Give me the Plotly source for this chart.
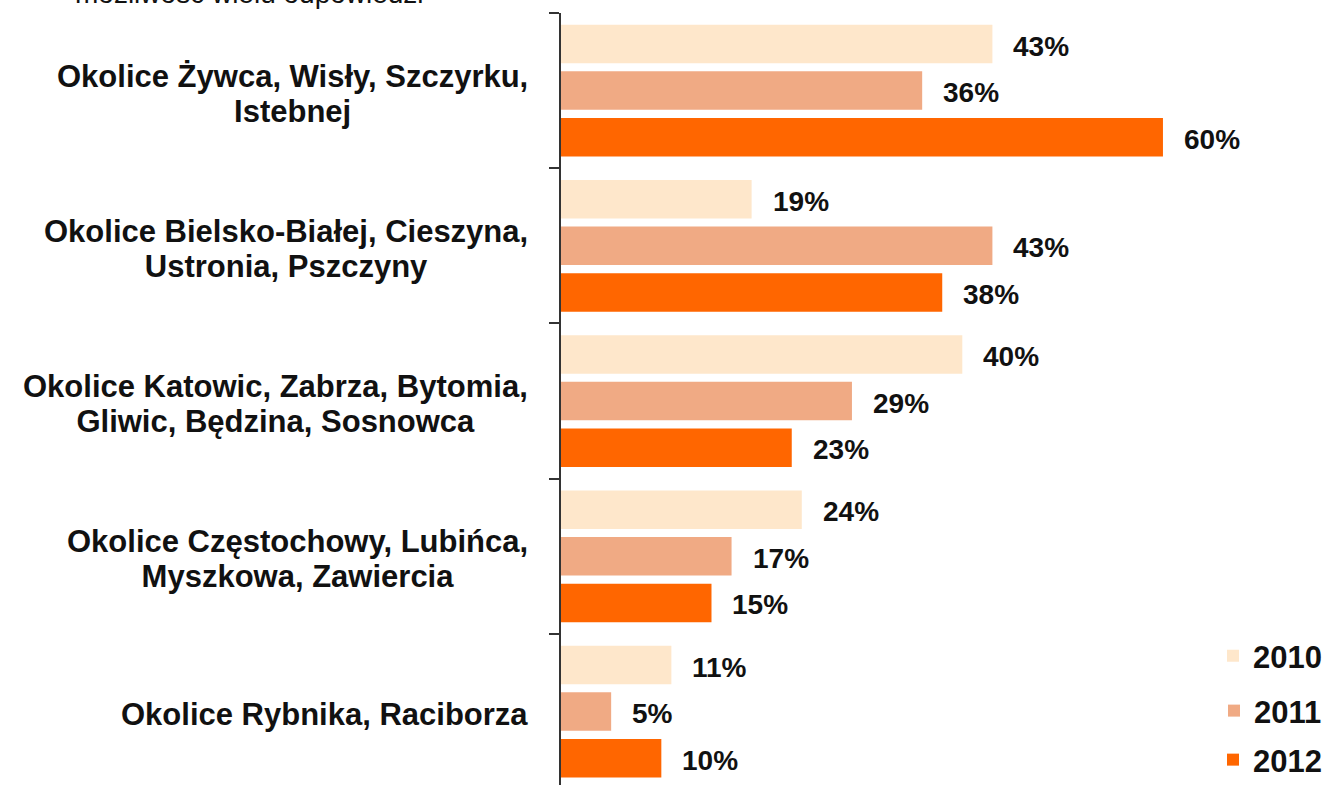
import plotly.graph_objects as go

# Regions (top to bottom) and share of answers per survey year
regions = [
    "Okolice Żywca, Wisły, Szczyrku,<br>Istebnej",
    "Okolice Bielsko-Białej, Cieszyna,<br>Ustronia, Pszczyny",
    "Okolice Katowic, Zabrza, Bytomia,<br>Gliwic, Będzina, Sosnowca",
    "Okolice Częstochowy, Lubińca,<br>Myszkowa, Zawiercia",
    "Okolice Rybnika, Raciborza",
]
years = ["2010", "2011", "2012"]
values_2010 = [43, 19, 40, 24, 11]
values_2011 = [36, 43, 29, 17, 5]
values_2012 = [60, 38, 23, 15, 10]
note = "możliwość wielu odpowiedzi"

series = [values_2010, values_2011, values_2012]
colors = ["#FEE7CB", "#F0AA84", "#FF6600"]
offsets = [-0.3, 0.0, 0.3]
bar_w = 0.248

FONT = "Liberation Sans, Arial, sans-serif"

fig = go.Figure()
legend_ids = ["legend", "legend2", "legend3"]
for k, (yr, vals) in enumerate(zip(years, series)):
    fig.add_trace(go.Bar(
        x=vals,
        y=[i + offsets[k] for i in range(len(regions))],
        orientation="h",
        width=bar_w,
        name=yr,
        marker=dict(color=colors[k], line=dict(width=0)),
        legend=legend_ids[k],
        hoverinfo="skip",
    ))

annotations = []
# value labels next to each bar
for k, vals in enumerate(series):
    for i, v in enumerate(vals):
        annotations.append(dict(
            x=v, y=i + offsets[k], xref="x", yref="y",
            text=f"{v}%", showarrow=False, xanchor="left", yanchor="middle",
            xshift=19, yshift=-2,
            font=dict(family=FONT, size=28, color="#111111", weight=700),
        ))
# region names left of the axis: base font sets the (tighter) line pitch,
# the spans carry the larger glyph size
for i, name in enumerate(regions):
    styled = "<br>".join(
        f"<span style='font-size:31px'>{line}</span>" for line in name.split("<br>")
    )
    annotations.append(dict(
        x=0, y=i, xref="paper", yref="y",
        text=styled, showarrow=False, xanchor="right", yanchor="middle",
        align="center", xshift=-31, yshift=-3,
        font=dict(family=FONT, size=27, color="#111111", weight=700),
    ))
# subtitle running off the top edge
annotations.append(dict(
    x=(73 - 561) / 766, y=1, xref="paper", yref="paper",
    text=note, showarrow=False, xanchor="left", yanchor="bottom",
    yshift=2,
    font=dict(family=FONT, size=28, color="#111111"),
))

n = len(regions)
fig.update_layout(
    width=1327, height=785,
    margin=dict(l=561, r=0, t=13, b=0, autoexpand=False),
    paper_bgcolor="white", plot_bgcolor="white",
    barmode="overlay",
    showlegend=True,
    annotations=annotations,
    xaxis=dict(range=[0, 76.35], visible=False, fixedrange=True),
    yaxis=dict(
        range=[4.473, -0.5],
        tickvals=[i - 0.5 for i in range(n)],
        ticktext=["" for _ in range(n)],
        ticks="outside", ticklen=10, tickwidth=2, tickcolor="#333333",
        showline=True, linecolor="#333333", linewidth=2,
        showgrid=False, zeroline=False, fixedrange=True,
    ),
)

legend_y = [0.167, 0.0959, 0.0324]
for lid, ly in zip(legend_ids, legend_y):
    fig.update_layout({lid: dict(
        x=1.0, y=ly, xref="paper", yref="paper",
        xanchor="right", yanchor="middle",
        bgcolor="rgba(0,0,0,0)", borderwidth=0,
        font=dict(family=FONT, size=31, color="#111111", weight=700),
        itemwidth=30,
    )})

fig.write_html("out.html", config={"displayModeBar": False})
